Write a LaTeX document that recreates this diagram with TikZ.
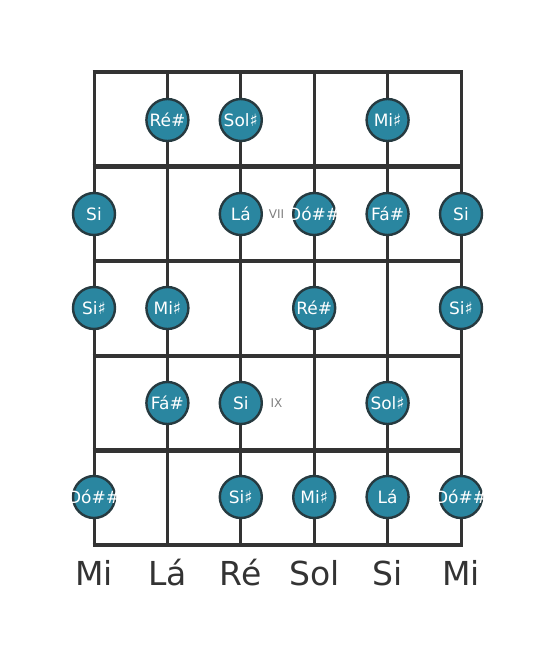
\documentclass[tikz,border=0pt]{standalone}
\usepackage{fontspec}
\setmainfont{DejaVu Sans}
\definecolor{notefill}{HTML}{2A86A0}
\definecolor{noteline}{HTML}{263A40}
\definecolor{boardline}{HTML}{333333}
\newcommand{\wide}[1]{\makebox[0pt]{#1}}

\begin{document}
\begin{tikzpicture}[x=1pt, y=-1pt,
    note/.style={circle,draw=noteline,fill=notefill,line width=2.4pt,minimum size=42pt,inner sep=0pt,text=white,font=\fontsize{17}{17}\selectfont},
    fretno/.style={text=gray,font=\fontsize{12}{12}\selectfont},
    stringname/.style={text=boardline,font=\fontsize{33}{33}\selectfont}]
    \useasboundingbox (0,0) rectangle (555,656);
    % strings
    \foreach \s/\x/\name in {1/94/Mi, 2/167.4/Lá, 3/240.8/Ré, 4/314.2/Sol, 5/387.6/Si, 6/461/Mi} {
      \coordinate (t\s) at (\x,72);
      \coordinate (b\s) at (\x,545);
      \draw[boardline,line width=3pt] (t\s) -- (b\s);
      \node[stringname] (n\s) at (\x,573) {\name};
    }
    % frets
    \foreach \f/\y in {0/72, 1/166.6, 2/261.2, 3/355.8, 4/450.4, 5/545} {
      \coordinate (fl\f) at (92.5,\y);
      \coordinate (fr\f) at (462.5,\y);
      \draw[boardline,line width=4.5pt] (fl\f) -- (fr\f);
    }
    % notes
    \node[note] (re1) at (167.4,120) {Ré\#};
    \node[note] (sol1) at (240.8,120) {Sol♯};
    \node[note] (mi1) at (387.6,120) {Mi♯};

    \node[note] (si2a) at (94,214) {Si};
    \node[note] (la2) at (240.8,214) {Lá};
    \node[fretno] (vii) at (276.5,214) {VII};
    \node[note] (do2) at (314.2,214) {\wide{Dó\#\#}};
    \node[note] (fa2) at (387.6,214) {Fá\#};
    \node[note] (si2b) at (461,214) {Si};

    \node[note] (sis3a) at (94,308) {Si♯};
    \node[note] (mi3) at (167.4,308) {Mi♯};
    \node[note] (re3) at (314.2,308) {Ré\#};
    \node[note] (sis3b) at (461,308) {Si♯};

    \node[note] (fa4) at (167.4,403) {Fá\#};
    \node[note] (si4) at (240.8,403) {Si};
    \node[fretno] (ix) at (276.5,403) {IX};
    \node[note] (sol4) at (387.6,403) {Sol♯};

    \node[note] (do5a) at (94,497) {\wide{Dó\#\#}};
    \node[note] (sis5) at (240.8,497) {Si♯};
    \node[note] (mi5) at (314.2,497) {Mi♯};
    \node[note] (la5) at (387.6,497) {Lá};
    \node[note] (do5b) at (461,497) {\wide{Dó\#\#}};
\end{tikzpicture}
\end{document}
